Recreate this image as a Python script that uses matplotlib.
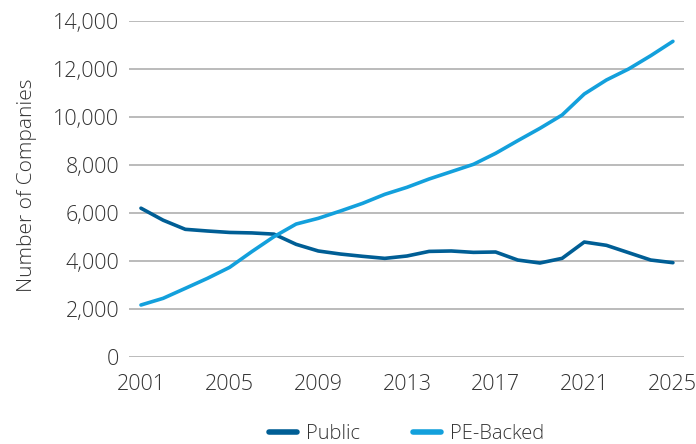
import matplotlib
matplotlib.use("Agg")
import matplotlib.pyplot as plt
from matplotlib.ticker import FuncFormatter

years = list(range(2001, 2026))
public = [6200, 5700, 5320, 5250, 5190, 5170, 5120, 4695, 4417, 4290, 4195, 4110,
          4208, 4400, 4417, 4360, 4375, 4040, 3917, 4110, 4790, 4653, 4347, 4040, 3930]
pe_backed = [2167, 2445, 2860, 3278, 3736, 4390, 5014, 5540, 5778, 6083, 6403, 6778,
             7070, 7417, 7722, 8028, 8486, 9014, 9528, 10083, 10958, 11542, 12000, 12555, 13153]
xticks = [2001, 2005, 2009, 2013, 2017, 2021, 2025]
yticks = [0, 2000, 4000, 6000, 8000, 10000, 12000, 14000]

plt.rcParams['font.family'] = ['Open Sans', 'DejaVu Sans']
text_color = '#333333'

fig = plt.figure(figsize=(6.96, 4.44), dpi=100)
ax = fig.add_axes([129/696, 1-357/444, (684-129)/696, (357-21)/444])

ax.plot(years, public, color='#005e95', lw=2.6, label='Public', solid_capstyle='round')
ax.plot(years, pe_backed, color='#13a0dc', lw=2.6, label='PE-Backed', solid_capstyle='round')

ax.set_xlim(2000.46, 2025.5)
ax.set_ylim(0, 14000)
ax.set_xticks(xticks)
ax.set_yticks(yticks)
ax.yaxis.set_major_formatter(FuncFormatter(lambda v, p: f"{int(v):,}"))
ax.grid(axis='y', color='#a8a8a8', lw=1.1)
ax.set_axisbelow(True)
for s in ax.spines.values():
    s.set_visible(False)
ax.tick_params(axis='both', length=0, labelsize=15.5, colors=text_color)
ax.tick_params(axis='x', pad=12)
ax.tick_params(axis='y', pad=7)
for lbl in ax.get_xticklabels() + ax.get_yticklabels():
    lbl.set_fontweight('light')
ax.set_ylabel('Number of Companies', fontsize=15, color=text_color, fontweight='light')
ax.yaxis.set_label_coords(-0.165, 0.51)

leg = fig.legend(loc='center', bbox_to_anchor=(0.584, 1-434/444), ncol=2, frameon=False,
                 fontsize=14.5, handlelength=1.4, columnspacing=2.6, handletextpad=0.45)
for t in leg.get_texts():
    t.set_color(text_color)
    t.set_fontweight('light')
for l in leg.get_lines():
    l.set_linewidth(4)

fig.savefig('out.png', dpi=100)
